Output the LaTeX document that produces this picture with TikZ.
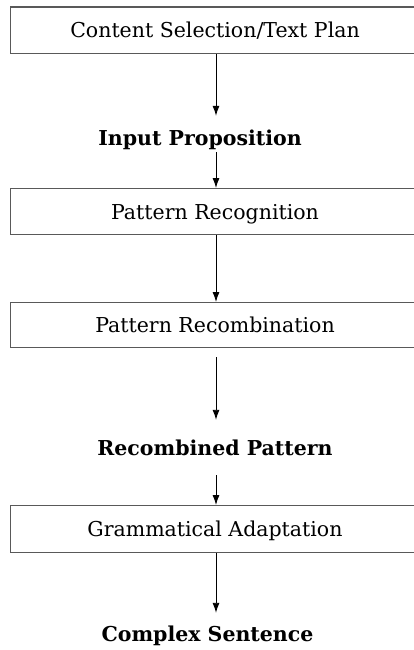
\documentclass[tikz,border=0pt]{standalone}
\usepackage{fontspec}
\setmainfont{DejaVu Serif}
\usetikzlibrary{arrows.meta}
\begin{document}
\begin{tikzpicture}[x=1pt,y=-1pt,
  stagebox/.style={draw=black!65,line width=1.1pt,minimum width=409pt,inner sep=0pt,
    text height=15pt,text depth=0pt,anchor=north,font=\fontsize{20.5}{24}\selectfont},
  datalabel/.style={inner sep=0pt,text height=15pt,text depth=0pt,anchor=base,
    font=\fontsize{20.5}{24}\selectfont\bfseries},
  flow/.style={line width=0.9pt,-{Latex[length=10pt,width=7pt]}}]
\useasboundingbox (0,0) rectangle (413,650);
\node[stagebox,minimum height=46.5pt] (cs) at (215,6.5) {Content Selection/Text Plan};
\node[datalabel] (ip) at (200,145) {Input Proposition};
\node[stagebox,minimum height=46pt] (pr) at (215,188) {Pattern Recognition};
\node[stagebox,minimum height=45pt] (pc) at (215,302) {Pattern Recombination};
\node[datalabel] (rp) at (215,455) {Recombined Pattern};
\node[stagebox,minimum height=47pt] (ga) at (215,505) {Grammatical Adaptation};
\node[datalabel] (se) at (207.5,641) {Complex Sentence};
\coordinate (ax) at (216,0);
\draw[flow,shorten >=14pt] (cs.south -| ax) -- (ip.north -| ax);
\draw[flow,shorten <=7pt] (ip.south -| ax) -- (pr.north -| ax);
\draw[flow] (pr.south -| ax) -- (pc.north -| ax);
\draw[flow,shorten <=9pt,shorten >=20pt] (pc.south -| ax) -- (rp.north -| ax);
\draw[flow,shorten <=20pt] (rp.south -| ax) -- (ga.north -| ax);
\draw[flow,shorten >=13pt] (ga.south -| ax) -- (se.north -| ax);
\end{tikzpicture}
\end{document}
